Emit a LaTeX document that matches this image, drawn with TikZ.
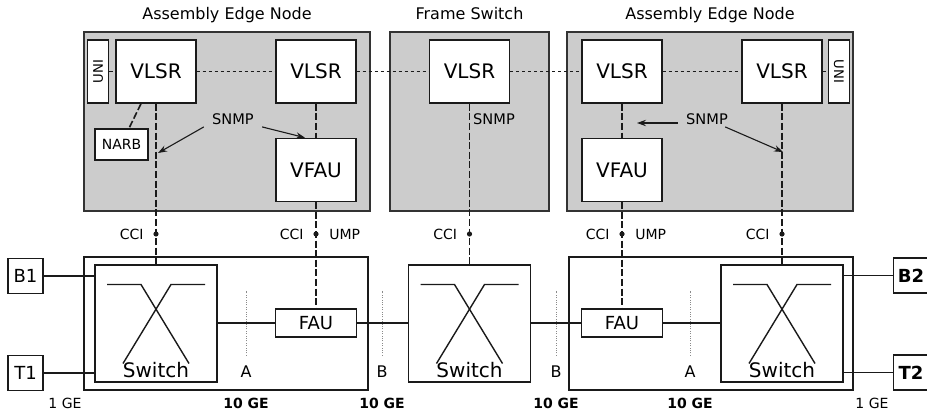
\documentclass[tikz,border=0pt]{standalone}
\usepackage{fontspec}
\setmainfont{DejaVu Sans}
\usetikzlibrary{arrows.meta,positioning,calc}
\definecolor{cGroup}{HTML}{CCCCCC}
\definecolor{cEdge} {HTML}{333333}
\definecolor{cLine} {HTML}{1A1A1A}
\definecolor{cMuted}{HTML}{8A8A8A}

\begin{document}
\begin{tikzpicture}[
  x=0.5pt, y=-0.5pt,
  font=\fontsize{8}{9.6}\selectfont,
  grp/.style   ={draw=cEdge, fill=cGroup, line width=0.85pt, inner sep=0pt,
                 minimum width=143pt, minimum height=89.5pt},
  blk/.style   ={draw=cLine, fill=white, line width=0.7pt, inner sep=0pt},
  vbox/.style  ={blk, minimum width=40pt, minimum height=31.5pt, font=\fontsize{10}{12}\selectfont},
  unibox/.style={blk, minimum width=10.5pt, minimum height=31.5pt, font=\fontsize{6.6}{7}\selectfont},
  swbox/.style ={blk, minimum width=61pt, minimum height=58.5pt},
  fau/.style   ={blk, minimum width=40.5pt, minimum height=14pt, font=\fontsize{9}{10}\selectfont},
  port/.style  ={blk, minimum width=17.5pt, minimum height=17.5pt, font=\fontsize{9}{10}\selectfont},
  title/.style ={inner sep=0pt, font=\fontsize{8}{9.6}\selectfont},
  swlbl/.style ={inner sep=0pt, font=\fontsize{10}{12}\selectfont},
  snmp/.style  ={inner xsep=4pt, inner ysep=1pt, font=\fontsize{7.3}{8.5}\selectfont},
  lbl/.style   ={inner sep=0pt, font=\fontsize{7}{8}\selectfont},
  refmark/.style={inner sep=0pt, font=\fontsize{8}{9.6}\selectfont},
  rate/.style  ={inner sep=0pt, font=\fontsize{7}{8}\selectfont\bfseries},
  dot/.style   ={circle, fill=cLine, inner sep=0pt, minimum size=2.6pt},
  link/.style  ={draw=cLine, line width=0.7pt},
  ctl/.style   ={draw=cLine, line width=0.8pt, dash pattern=on 3.5pt off 1.3pt},
  sig/.style   ={draw=cLine, line width=0.65pt, dash pattern=on 1.6pt off 1.4pt},
  refl/.style  ={draw=cMuted, line width=0.4pt, dash pattern=on 0.5pt off 0.7pt},
  ar/.style    ={-{Stealth[length=4.5pt, width=3.2pt]}, draw=cLine, line width=0.55pt},
]
\useasboundingbox (0,0) rectangle (927,412);

% ---------------------------------------------------------------- control plane
\node[grp] (aenL) at (227,121.5) {};
\node[grp, minimum width=79.5pt] (fsw) at (469.5,121.5) {};
\node[grp] (aenR) at (710,121.5) {};

\node[title, above=6pt of aenL.north, anchor=base] {Assembly Edge Node};
\node[title, above=6pt of fsw.north, anchor=base]  {Frame Switch};
\node[title, above=6pt of aenR.north, anchor=base] {Assembly Edge Node};

\node[vbox] (v1) at (156,71.5)   {VLSR};
\node[vbox] (v2) at (316,71.5)   {VLSR};
\node[vbox] (v3) at (469.5,71.5) {VLSR};
\node[vbox] (v4) at (622,71.5)   {VLSR};
\node[vbox] (v5) at (782,71.5)   {VLSR};

\node[unibox, left=3pt of v1]    (uni1) {\rotatebox{90}{UNI}};
\node[unibox, right=2.5pt of v5] (uni2) {\rotatebox{-90}{UNI}};

\node[vbox, below=17pt of v2] (vf1) {VFAU};
\node[vbox, below=17pt of v4] (vf2) {VFAU};

\node[blk, minimum width=26.5pt, minimum height=15.5pt, font=\fontsize{7}{8}\selectfont]
  (narb) at (121.5,144.5) {NARB};

% ---------------------------------------------------------------- data plane
\node[blk, minimum width=142pt, minimum height=66.5pt] (bL) at (226,323.5) {};
\node[blk, minimum width=142pt, minimum height=66.5pt] (bR) at (711,323.5) {};

\node[swbox] (swL) at (156,323.5) {};
\node[swbox] (swC) at (469.5,323.5) {};
\node[swbox] (swR) at (782,323.5) {};

\node[fau] (fauL) at (316,323) {FAU};
\node[fau] (fauR) at (622,323) {FAU};

\node[port] (b1) at (25.5,276) {B1};
\node[port] (t1) at (25.5,373) {T1};
\node[port, font=\fontsize{9}{10}\selectfont\bfseries] (b2) at (911,275.5) {B2};
\node[port, font=\fontsize{9}{10}\selectfont\bfseries] (t2) at (911,372.5) {T2};

\foreach \s in {swL,swC,swR} {
  \draw[link] ([shift={(-49,-39)}]\s.center) -- ([shift={(-15,-39)}]\s.center) -- ([shift={(33,40)}]\s.center);
  \draw[link] ([shift={(49,-39)}]\s.center) -- ([shift={(15,-39)}]\s.center) -- ([shift={(-33,40)}]\s.center);
  \node[swlbl, above=2.5pt of \s.south, anchor=base] {Switch};
}

% ---------------------------------------------------------------- links
\draw[link] (b1.east) -- (b1 -| swL.west);
\draw[link] (t1.east) -- (t1 -| swL.west);
\draw[link] (fauL.west -| swL.east) -- (fauL.west);
\draw[link] (fauL.east) -- (fauL.east -| swC.west);
\draw[link] (fauR.west -| swC.east) -- (fauR.west);
\draw[link] (fauR.east) -- (fauR.east -| swR.west);
\draw[link] (b2 -| swR.east) -- (b2.west);
\draw[link] (t2 -| swR.east) -- (t2.west);

\draw[sig] (uni1) -- (v1) -- (v2) -- (v3) -- (v4) -- (v5) -- (uni2);

\draw[ctl] (v1) -- (swL);
\draw[ctl] (v2) -- (vf1);
\draw[ctl] (vf1) -- (fauL);
\draw[ctl] (v3) -- (swC);
\draw[ctl] (v4) -- (vf2);
\draw[ctl] (vf2) -- (fauR);
\draw[ctl] (v5) -- (swR);
\draw[ctl] ([xshift=-7.5pt]v1.south) -- ([xshift=3.75pt]narb.north);

% CCI points
\coordinate (cciRow) at (0,234);
\foreach \n/\v in {1/v1,2/v2,3/v3,4/v4,5/v5} {
  \node[dot] (d\n) at (\v |- cciRow) {};
  \node[lbl, left=4.5pt of d\n] {CCI};
}
\node[lbl, right=5pt of d2] {UMP};
\node[lbl, right=5pt of d4] {UMP};

% SNMP
\node[snmp] (snL) at (233,119) {SNMP};
\node[snmp] (snC) at (494,119) {SNMP};
\node[snmp] (snR) at (707,119) {SNMP};
\coordinate (tipL)  at (158,153);
\coordinate (tipR)  at (637,123);
\coordinate (tipR2) at (783,152);
\draw[ar] (snL.south west) -- (tipL);
\draw[ar] (snL.south east) -- ([xshift=-5.5pt]vf1.north);
\draw[ar] (snR.west |- tipR) -- (tipR);
\draw[ar] ([xshift=-5.5pt]snR.south east) -- (tipR2);

% ---------------------------------------------------------------- reference points
\foreach \x/\t/\n in {246/A/1, 382/B/2, 556/B/3, 690/A/4} {
  \node[refmark] (ref\n) at (\x,372) {\t};
  \draw[refl] ([yshift=5pt]ref\n.north) -- ([yshift=37.5pt]ref\n.north);
  \node[rate] (rate\n) at (\x,403) {10 GE};
}
\node[lbl] (rateL) at (65,403)  {1 GE};
\node[lbl] (rateR) at (872,403) {1 GE};

\end{tikzpicture}
\end{document}
